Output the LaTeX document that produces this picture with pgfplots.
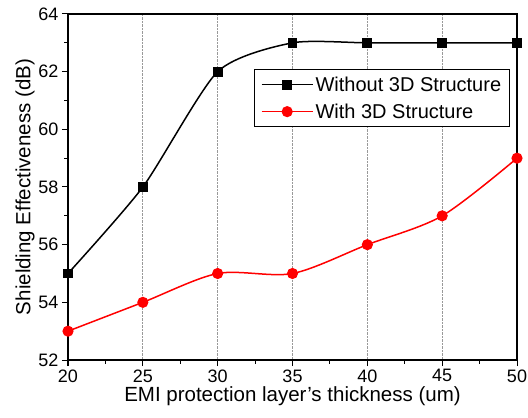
\documentclass[border=0pt]{standalone}
\usepackage{pgfplots}
\pgfplotsset{compat=1.18}
\usepackage{fontspec}
\setmainfont{Liberation Sans}
\begin{document}
\begin{tikzpicture}
\begin{axis}[
 scale only axis, width=449pt, height=346pt,
 xmin=20, xmax=50, ymin=52, ymax=64,
 xtick={20,25,...,50}, ytick={52,54,...,64},
 minor x tick num=1, minor y tick num=1,
 tick align=outside, xtick pos=bottom, ytick pos=left,
 major tick length=6pt, minor tick length=3.5pt,
 tick style={black, line width=1pt},
 axis line style={black, line width=1.2pt},
 xmajorgrids, grid style={densely dotted, gray!80, line width=0.8pt},
 /pgf/number format/assume math mode=true,
 tick label style={font=\fontsize{18}{20}\selectfont},
 label style={font=\fontsize{20.5}{23}\selectfont},
 xlabel={EMI protection layer’s thickness (um)},
 ylabel={Shielding Effectiveness (dB)},
 xlabel style={yshift=3pt},
 ylabel style={yshift=-3pt},
 legend style={at={(0.984,0.841)}, anchor=north east, draw=black, line width=1.3pt,
   font=\fontsize{20}{22}\selectfont, row sep=7pt, inner xsep=6pt, inner ysep=5pt},
 legend cell align=left,
 legend image code/.code={\draw[line width=1.5pt,mark repeat=2,mark phase=2] plot coordinates {(0cm,0cm)(0.9cm,0cm)(1.8cm,0cm)};},
]
\addplot[black, line width=1.5pt, smooth, tension=0.4, mark=square*, mark size=4.2pt, mark options={solid}]
 coordinates {(20,55)(25,58)(30,62)(35,63)(40,63)(45,63)(50,63)};
\addlegendentry{Without 3D Structure}
\addplot[red, line width=1.5pt, smooth, tension=0.5, mark=*, mark size=4.8pt, mark options={solid}]
 coordinates {(20,53)(25,54)(30,55)(35,55)(40,56)(45,57)(50,59)};
\addlegendentry{With 3D Structure}
\coordinate (sw) at (rel axis cs:0,0);
\coordinate (ne) at (rel axis cs:1,1);
\end{axis}
\pgfresetboundingbox
\useasboundingbox ([xshift=-68pt,yshift=-57pt]sw) rectangle ([xshift=11pt,yshift=14pt]ne);
\end{tikzpicture}
\end{document}
